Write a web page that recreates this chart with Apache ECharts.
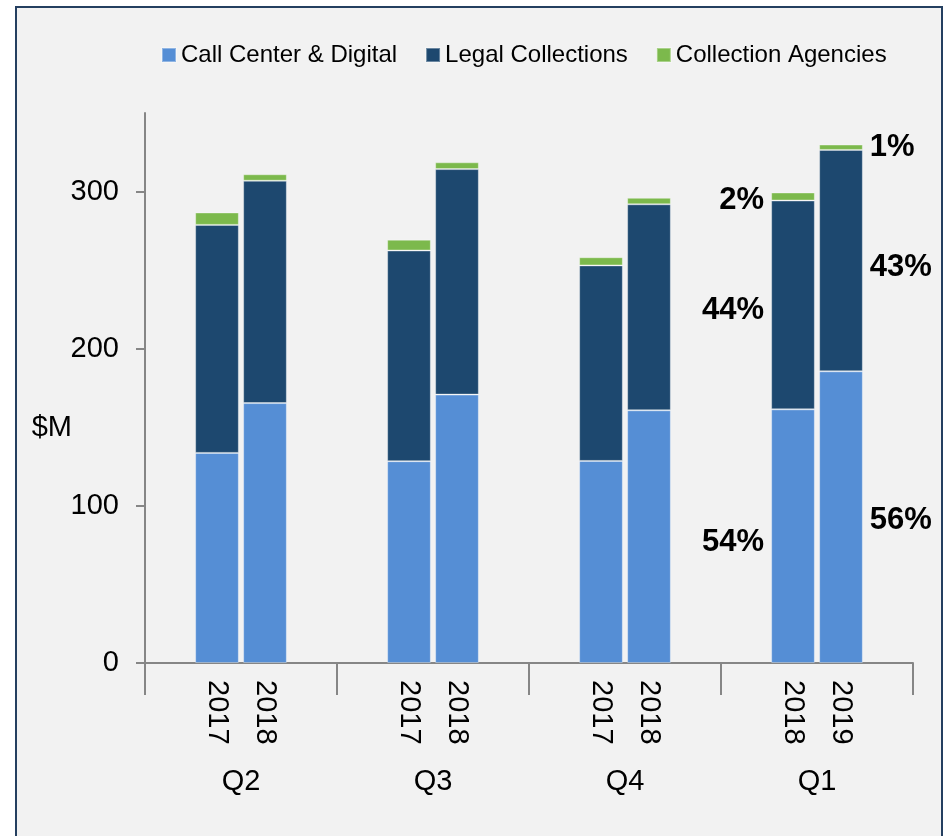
<!DOCTYPE html>
<html>
<head>
<meta charset="utf-8">
<script src="https://cdn.jsdelivr.net/npm/echarts@6/dist/echarts.min.js"></script>
<style>
  html, body { margin: 0; padding: 0; background: #fff; overflow: hidden; }
  .frame {
    position: absolute; left: 15px; top: 6px;
    width: 924px; height: 900px;
    border: 2px solid #243f60; background: #f2f2f2;
  }
  #main { position: absolute; left: 0; top: 0; width: 944px; height: 836px; }
</style>
</head>
<body>
<div class="frame"></div>
<div id="main"></div>
<script>
// quarters and the two years shown in each
var quarters = ['Q2', 'Q3', 'Q4', 'Q1'];
var years = [['2017', '2018'], ['2017', '2018'], ['2017', '2018'], ['2018', '2019']];

// $M per bar, in order Q2'17, Q2'18, Q3'17, Q3'18, Q4'17, Q4'18, Q1'18, Q1'19
var callCenter = [133.7, 165.4, 128.4, 170.8, 128.6, 160.8, 161.4, 185.6];
var legalColl  = [145.1, 141.5, 134.1, 143.5, 124.4, 131.1, 132.9, 140.9];
var agencies   = [7.9, 4.1, 6.9, 4.3, 5.2, 4.1, 5.1, 3.4];

// share labels beside the Q1 bars
var shareQ1Prev = ['54%', '44%', '2%'];
var shareQ1Curr = ['56%', '43%', '1%'];

var yTicks = [0, 100, 200, 300];
var yName = '$M';

var colors = ['#558ed5', '#1d486f', '#7cb94c'];

// each quarter gets 4 slots: empty, year A, year B, empty
var slotLabels = [];
quarters.forEach(function (q, i) {
    slotLabels.push('', years[i][0], years[i][1], '');
});

function toSlots(vals) {
    var out = [];
    for (var i = 0; i < quarters.length; i++) {
        out.push('-', vals[i * 2], vals[i * 2 + 1], '-');
    }
    return out;
}

var font = 'Liberation Sans, Arial, sans-serif';
var labelFont = {
    fontFamily: font,
    fontSize: 31,
    fontWeight: 'bold',
    color: '#000'
};
var labelOffsets = [[6, 3], [6, 7], [4, 0]]; // y offsets [prev, curr] per series

function withShares(vals, seriesIdx) {
    var data = toSlots(vals);
    var a = 13, b = 14; // Q1 slots
    data[a] = {
        value: data[a],
        label: Object.assign({
            show: true, position: 'left', distance: 7,
            offset: [0, labelOffsets[seriesIdx][0]],
            formatter: shareQ1Prev[seriesIdx]
        }, labelFont)
    };
    data[b] = {
        value: data[b],
        label: Object.assign({
            show: true, position: 'right', distance: 7,
            offset: [0, labelOffsets[seriesIdx][1]],
            formatter: shareQ1Curr[seriesIdx]
        }, labelFont)
    };
    return data;
}

var axisGray = '#868686';

var myChart = echarts.init(document.getElementById('main'));
var option = {
    animation: false,
    color: colors,
    legend: {
        left: 156,
        top: 38,
        icon: 'rect',
        itemWidth: 14,
        itemHeight: 14,
        itemGap: 28,
        textStyle: { fontFamily: font, fontSize: 24, color: '#000' },
        data: ['Call Center & Digital', 'Legal Collections', 'Collection Agencies']
    },
    graphic: [{
        type: 'text',
        x: 72,
        y: 428,
        style: {
            text: yName,
            font: '29px ' + font,
            fill: '#000',
            align: 'right',
            verticalAlign: 'middle'
        }
    }],
    grid: { left: 145, right: 31, top: 113, bottom: 173 },
    xAxis: [
        {
            type: 'category',
            position: 'bottom',
            data: slotLabels,
            axisLine: { lineStyle: { color: axisGray, width: 2 } },
            axisTick: { show: false },
            axisLabel: {
                interval: 0,
                rotate: -90,
                margin: 17,
                fontFamily: font,
                fontSize: 29,
                color: '#000'
            }
        },
        {
            type: 'category',
            position: 'bottom',
            data: quarters,
            axisLine: { show: false },
            axisTick: { show: true, length: 32, interval: 0, lineStyle: { color: axisGray, width: 2 } },
            axisLabel: {
                interval: 0,
                margin: 104,
                fontFamily: font,
                fontSize: 29,
                color: '#000'
            }
        }
    ],
    yAxis: {
        type: 'value',
        min: 0,
        max: 350,
        interval: 100,
        splitLine: { show: false },
        axisLine: { show: true, lineStyle: { color: axisGray, width: 2 } },
        axisTick: { show: true, length: 9, customValues: yTicks, lineStyle: { color: axisGray, width: 2 } },
        axisLabel: { margin: 26, customValues: yTicks, fontFamily: font, fontSize: 29, color: '#000' }
    },
    series: [
        {
            name: 'Call Center & Digital',
            type: 'bar',
            stack: 'total',
            barCategoryGap: '9%',
            itemStyle: { borderColor: 'rgba(255,255,255,0.35)', borderWidth: 1 },
            data: withShares(callCenter, 0)
        },
        {
            name: 'Legal Collections',
            type: 'bar',
            stack: 'total',
            barCategoryGap: '9%',
            itemStyle: { borderColor: 'rgba(255,255,255,0.35)', borderWidth: 1 },
            data: withShares(legalColl, 1)
        },
        {
            name: 'Collection Agencies',
            type: 'bar',
            stack: 'total',
            barCategoryGap: '9%',
            itemStyle: { borderColor: 'rgba(255,255,255,0.35)', borderWidth: 1 },
            data: withShares(agencies, 2)
        }
    ]
};
myChart.setOption(option);
</script>
</body>
</html>
